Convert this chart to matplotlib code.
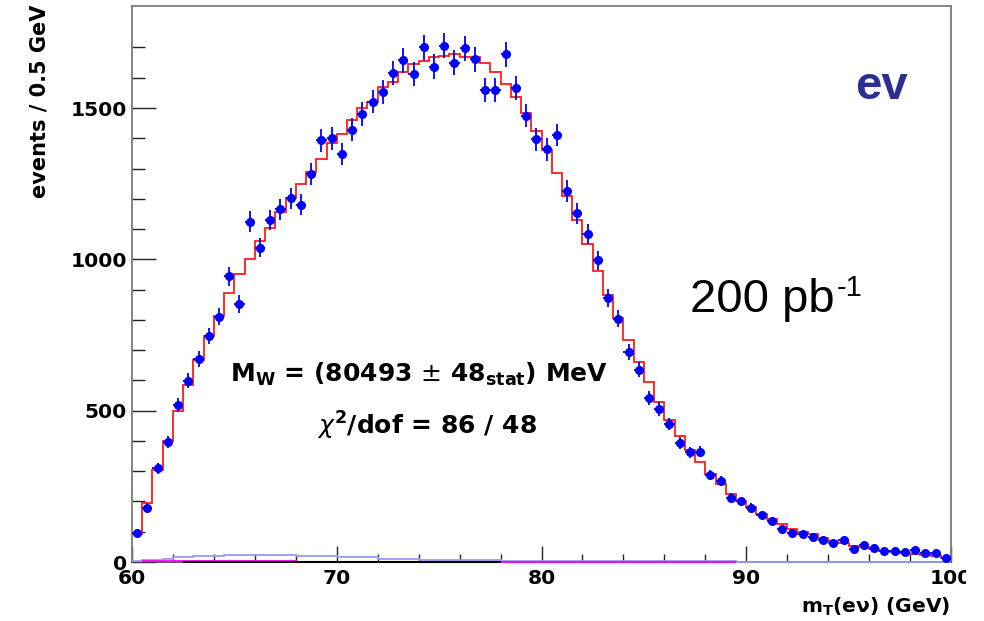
import numpy as np
import matplotlib
matplotlib.use("Agg")
import matplotlib.pyplot as plt
from matplotlib.patches import Rectangle

# ---------------- data ----------------
bin_edges = np.arange(60.0, 100.0001, 0.5)
bin_centers = bin_edges[:-1] + 0.25

data_counts = [97, 180, 310, 398, 520, 599, 670, 747, 811, 944,
               853, 1125, 1039, 1129, 1165, 1201, 1180, 1281, 1393, 1400,
               1348, 1428, 1480, 1521, 1553, 1615, 1657, 1612, 1701, 1637,
               1706, 1650, 1698, 1661, 1558, 1558, 1678, 1567, 1474, 1396,
               1363, 1411, 1226, 1152, 1083, 997, 872, 804, 693, 636,
               542, 506, 456, 393, 362, 365, 287, 269, 213, 202,
               180, 155, 136, 108, 97, 92, 83, 72, 62, 72,
               44, 55, 47, 36, 36, 34, 39, 31, 31, 14]

fit_counts = [92, 196, 304, 401, 498, 585, 669, 746, 812, 888,
              950, 1002, 1061, 1104, 1155, 1203, 1248, 1289, 1333, 1385,
              1415, 1460, 1499, 1521, 1568, 1585, 1618, 1645, 1656, 1668,
              1671, 1679, 1668, 1668, 1649, 1620, 1578, 1535, 1482, 1425,
              1361, 1284, 1208, 1131, 1052, 961, 881, 805, 732, 660,
              596, 527, 470, 415, 371, 329, 290, 259, 226, 202,
              182, 158, 141, 124, 108, 100, 92, 78, 70, 62,
              53, 50, 42, 36, 34, 31, 27, 23, 20, 14]

bkg1_edges = [60, 60.5, 61.5, 62, 63, 64.5, 68, 70, 72, 74, 78, 89.5, 100]
bkg1_counts = [2, 8, 11, 15, 21, 24, 21, 16, 11, 8, 2, 0]

bkg2_edges = [60.5, 68, 89.5]
bkg2_counts = [3, 0]

bkg3_edges = [62.5, 78]
bkg3_counts = [0]

y_ticks = [0, 500, 1000, 1500]
x_ticks = [60, 70, 80, 90, 100]

data_counts = np.array(data_counts, dtype=float)
fit_counts = np.array(fit_counts, dtype=float)

# ---------------- figure ----------------
W, H = 984, 621
fig = plt.figure(figsize=(W / 100, H / 100), dpi=100)
fig.patch.set_facecolor("white")

ax_l, ax_r, ax_t, ax_b = 132, 951, 5.7, 562
ax = fig.add_axes([ax_l / W, (H - ax_b) / H, (ax_r - ax_l) / W, (ax_b - ax_t) / H])

ax.set_xlim(60, 100)
ax.set_ylim(0, 1838)

# background components near zero
ax.stairs(bkg1_counts, bkg1_edges, baseline=None, color="#9a9af0", lw=1.3,
          clip_on=False, zorder=3)
ax.stairs(bkg2_counts, bkg2_edges, baseline=None, color="#ff00ff", lw=1.3,
          clip_on=False, zorder=3)
ax.stairs(bkg3_counts, bkg3_edges, baseline=None, color="black", lw=1.5,
          clip_on=False, zorder=3)

# fit histogram
ax.stairs(fit_counts, bin_edges, baseline=None, color="#ff1a1a", lw=1.3, zorder=4)

# data points
ax.errorbar(bin_centers, data_counts, yerr=np.sqrt(data_counts), xerr=0.25,
            fmt="o", color="#0000ff", ms=5.5, elinewidth=1.3, capsize=0, zorder=5)

# spines
for side in ["left", "top", "right"]:
    ax.spines[side].set_color("#7a7a7a")
    ax.spines[side].set_linewidth(1.3)
ax.spines["bottom"].set_color("#444444")
ax.spines["bottom"].set_linewidth(1.3)

# ticks
ax.set_xticks(x_ticks)
ax.set_xticks(np.arange(60, 100.1, 2), minor=True)
ax.set_yticks(y_ticks)
ax.set_yticks(np.arange(0, 1800, 100), minor=True)
ax.tick_params(axis="y", which="major", direction="in", length=17, width=1.0,
               color="#222222", labelsize=14.6, pad=3.5)
ax.tick_params(axis="y", which="minor", direction="in", length=9, width=1.0,
               color="#222222")
ax.tick_params(axis="x", which="major", direction="in", length=11.5, width=1.0,
               color="#222222", labelsize=14.6, pad=5)
ax.tick_params(axis="x", which="minor", direction="in", length=5.8, width=1.0,
               color="#222222")
ax.set_xticklabels([str(v) for v in x_ticks])
ax.set_yticklabels([str(v) for v in y_ticks])
for lbl in ax.get_xticklabels() + ax.get_yticklabels():
    lbl.set_fontweight("bold")
    lbl.set_family("DejaVu Sans")

def fx(px):
    return px / W

def fy(py):
    return 1 - py / H

# axis titles
fig.text(fx(40), fy(5), "events / 0.5 GeV", rotation=90, ha="center", va="top",
         fontsize=15, fontweight="bold", family="DejaVu Sans")
fig.text(fx(950), fy(613), r"m$_\mathregular{T}$(eν) (GeV)", ha="right",
         va="baseline", fontsize=14.6, fontweight="bold", family="DejaVu Sans")

# annotations
fig.text(fx(855), fy(99), "ev", ha="left", va="baseline", fontsize=34,
         fontweight="bold", family="Liberation Sans", color="#2d2d96")
fig.text(fx(690), fy(312), "200 pb", ha="left", va="baseline",
         fontsize=34, family="Liberation Sans", color="black")
fig.text(fx(837), fy(296), "-1", ha="left", va="baseline",
         fontsize=21, family="Liberation Sans", color="black")
fig.text(fx(419), fy(382),
         r"M$_\mathregular{W}$ = (80493 $\pm$ 48$_\mathregular{stat}$) MeV",
         ha="center", va="baseline", fontsize=18, fontweight="bold",
         family="DejaVu Sans")
fig.text(fx(427), fy(435), r"$\chi^\mathregular{2}$/dof = 86 / 48",
         ha="center", va="baseline", fontsize=18, fontweight="bold",
         family="DejaVu Sans")

# right-edge clipping of the last tick label as in the reference
fig.patches.append(Rectangle((fx(966), fy(600)), fx(984) - fx(966), fy(565) - fy(600),
                             transform=fig.transFigure, facecolor="white",
                             edgecolor="none", zorder=10))

fig.savefig("out.png", dpi=100, facecolor="white")
